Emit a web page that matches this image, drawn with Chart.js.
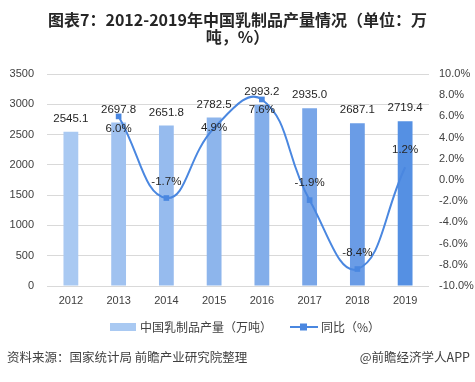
<!DOCTYPE html>
<html><head><meta charset="utf-8">
<script src="https://cdn.jsdelivr.net/npm/chart.js@4"></script>
<style>
html,body{margin:0;padding:0;background:#fff;}
#wrap{position:relative;width:475px;height:382px;overflow:hidden;}
#c{position:absolute;left:0;top:0;}
.t{position:absolute;left:0;width:475px;text-align:center;font-family:"Noto Sans CJK SC",sans-serif;font-weight:bold;font-size:16px;color:#262626;line-height:17px;}
.f{position:absolute;top:347px;font-family:"Noto Sans CJK SC",sans-serif;font-size:12.5px;color:#404040;white-space:nowrap;}
</style></head><body>
<div id="wrap">
<canvas id="c" width="475" height="382"></canvas>
<div class="t" style="top:11px">图表7：2012-2019年中国乳制品产量情况（单位：万</div>
<div class="t" style="top:28px">吨，%）</div>
<div class="f" style="left:7px">资料来源：国家统计局 前瞻产业研究院整理</div>
<div class="f" style="right:5px">@前瞻经济学人APP</div>
</div>
<script>
const years = ['2012','2013','2014','2015','2016','2017','2018','2019'];
const output = [2545.1, 2697.8, 2651.8, 2782.5, 2993.2, 2935.0, 2687.1, 2719.4];
const growth = [null, 6.0, -1.7, 4.9, 7.6, -1.9, -8.4, 1.2];
const barName = '中国乳制品产量（万吨）';
const lineName = '同比（%）';

const barColors = ['#a9c9f2','#a0c2f0','#96bbee','#8db5ec','#83aeea','#79a6e8','#6a9ce6','#5590e3'];
const lineColor = '#4a87e0';
const growthLabelOffset = [0, 12, -16, 0, 10, -17, -16, -17];
const pointRadii = [0, 4, 4, 0, 4, 4, 4, 0];

const labelPlugin = {
  id: 'labels',
  afterDatasetsDraw(chart) {
    const ctx = chart.ctx;
    ctx.save();
    ctx.font = '11.5px "Liberation Sans", sans-serif';
    ctx.fillStyle = '#262626';
    ctx.textAlign = 'center';
    ctx.textBaseline = 'middle';
    const barMeta = chart.getDatasetMeta(0);
    barMeta.data.forEach((el, i) => {
      ctx.fillText(output[i].toFixed(1), el.x, el.y - 13);
    });
    const lineMeta = chart.getDatasetMeta(1);
    lineMeta.data.forEach((el, i) => {
      if (growth[i] === null) return;
      ctx.fillText(growth[i].toFixed(1) + '%', el.x, el.y + growthLabelOffset[i]);
    });
    // legend
    const ly = 327;
    ctx.fillStyle = barColors[0];
    ctx.fillRect(110, ly - 4, 26, 8);
    ctx.font = '12px "Noto Sans CJK SC", sans-serif';
    ctx.fillStyle = '#404040';
    ctx.textAlign = 'left';
    ctx.fillText(barName, 140, ly);
    ctx.strokeStyle = lineColor;
    ctx.lineWidth = 2;
    ctx.beginPath(); ctx.moveTo(290, ly); ctx.lineTo(318, ly); ctx.stroke();
    ctx.fillStyle = lineColor;
    ctx.fillRect(300, ly - 3.5, 7, 7);
    ctx.fillStyle = '#404040';
    ctx.fillText(lineName, 321, ly);
    ctx.restore();
  }
};

new Chart(document.getElementById('c'), {
  data: {
    labels: years,
    datasets: [
      { type: 'bar', label: barName, data: output, backgroundColor: barColors,
        yAxisID: 'y', barPercentage: 0.31, categoryPercentage: 1.0, order: 2 },
      { type: 'line', label: lineName, data: growth, yAxisID: 'y1',
        borderColor: lineColor, backgroundColor: lineColor, borderWidth: 2,
        tension: 0.45, pointStyle: 'rect', pointRadius: pointRadii,
        pointBackgroundColor: lineColor, pointBorderWidth: 0, spanGaps: false, order: 1 }
    ]
  },
  options: {
    responsive: false,
    animation: false,
    devicePixelRatio: 1,
    layout: { padding: { top: 74, bottom: 72, left: 0, right: 0 } },
    plugins: { legend: { display: false }, title: { display: false }, tooltip: { enabled: false } },
    scales: {
      x: {
        grid: { display: false, drawTicks: false },
        border: { display: false },
        ticks: { padding: 8, color: '#404040', font: { size: 11, family: '"Liberation Sans", sans-serif' } },
        afterFit(s) { s.height = 24; }
      },
      y: {
        position: 'left', min: 0, max: 3500,
        ticks: { stepSize: 500, padding: 13, color: '#404040', font: { size: 11, family: '"Liberation Sans", sans-serif' },
          callback: v => String(v) },
        grid: { color: '#d9d9d9', drawTicks: false, lineWidth: 1 },
        border: { display: false },
        afterFit(s) { s.width = 47; }
      },
      y1: {
        position: 'right', min: -10, max: 10,
        ticks: { stepSize: 2, padding: 10, color: '#404040', font: { size: 11, family: '"Liberation Sans", sans-serif' },
          callback: v => v.toFixed(1) + '%' },
        grid: { display: false, drawTicks: false },
        border: { display: false },
        afterFit(s) { s.width = 46; }
      }
    }
  },
  plugins: [labelPlugin]
});
</script>
</body></html>
